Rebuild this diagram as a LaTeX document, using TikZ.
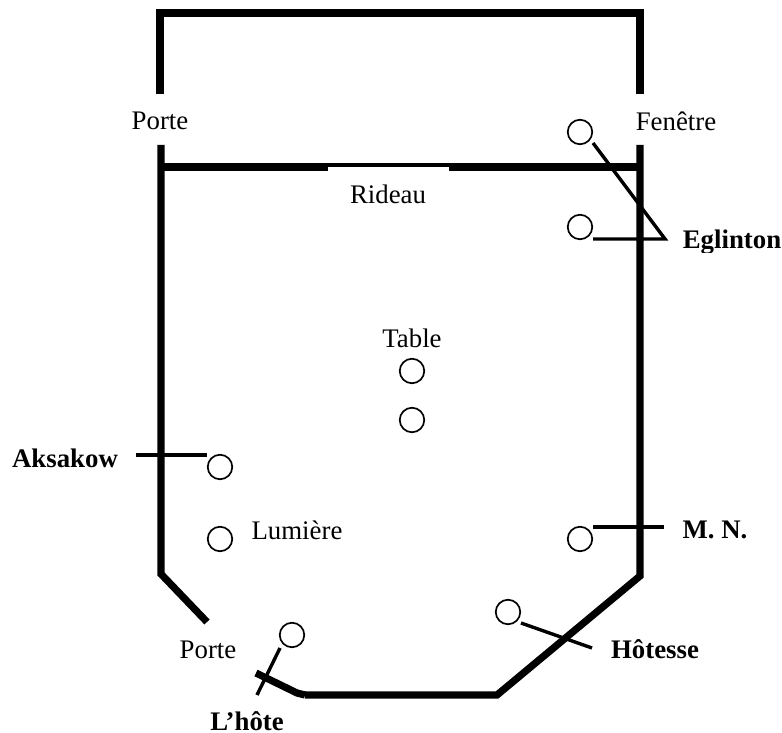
\documentclass[tikz,border=0pt]{standalone}
\usepackage{fontspec}
\setmainfont{Liberation Serif}
\begin{document}
\begin{tikzpicture}[x=1pt,y=-1pt,
  wall/.style={line width=7.2pt,line join=miter},
  thinline/.style={line width=3.4pt},
  seat/.style={circle,draw,line width=1.7pt,minimum size=24.5pt,inner sep=0pt},
  lab/.style={font=\fontsize{26.8}{30}\selectfont,inner sep=0pt},
  blab/.style={lab,font=\fontsize{26.8}{30}\selectfont\bfseries}]
\useasboundingbox (0,0) rectangle (782,733);
\coordinate (w1) at (160,94);
\coordinate (w2) at (160,13);
\coordinate (w3) at (640,13);
\coordinate (w4) at (640,94);
\draw[wall] (w1)--(w2)--(w3)--(w4);
\coordinate (a1) at (161,145);
\coordinate (a2) at (161,574);
\coordinate (a3) at (207,622);
\draw[wall] (a1)--(a2)--(a3);
\coordinate (b1) at (640,145);
\coordinate (b2) at (640,576);
\coordinate (b3) at (497,695);
\coordinate (b4) at (305,695);
\coordinate (b5) at (297,693);
\coordinate (b6) at (256,673);
\draw[wall] (b1)--(b2)--(b3)--(b4);
\draw[wall] (b4)--(b5)--(b6);
\coordinate (r1) at (161,167.5);
\coordinate (r2) at (328,167.5);
\coordinate (r3) at (449,167.5);
\coordinate (r4) at (640,167.5);
\draw[wall,line width=8pt] (r1)--(r2) (r3)--(r4);
\coordinate (r5) at (328,165.3);
\coordinate (r6) at (449,165.3);
\draw[line width=3.6pt] (r5)--(r6);
\node[seat] (s1) at (580,132) {};
\node[seat] (s2) at (580,227) {};
\node[seat] (s3) at (412,371) {};
\node[seat] (s4) at (412,420) {};
\node[seat] (s5) at (220,467) {};
\node[seat] (s6) at (220,539) {};
\node[seat] (s7) at (580,539) {};
\node[seat] (s8) at (508,612) {};
\node[seat] (s9) at (292,635) {};
\coordinate (e) at (665,239);
\coordinate (e1) at (593,143);
\coordinate (e2) at (593,239);
\draw[thinline,line join=miter] (e1)--(e)--(e2);
\coordinate (ak) at (136,455);
\coordinate (ak2) at (207,455);
\draw[thinline] (ak)--(ak2);
\coordinate (mn) at (664,527);
\coordinate (mn2) at (593,527);
\draw[thinline] (mn2)--(mn);
\coordinate (ho) at (592,648);
\coordinate (ho2) at (521,623);
\draw[thinline] (ho2)--(ho);
\coordinate (lh) at (257,695);
\coordinate (lh2) at (280,648);
\draw[thinline] (lh2)--(lh);
\node[lab] (t1) at (160,121) {Porte};
\node[lab] (t2) at (676,121) {Fenêtre};
\node[lab] (t3) at (388,194) {Rideau};
\node[lab] (t4) at (412,338) {Table};
\node[lab] (t5) at (297,530) {Lumière};
\node[lab] (t6) at (208,650) {Porte};
\node[blab] (t7) at (732,242) {Eglinton};
\node[blab] (t8) at (65,458) {Aksakow};
\node[blab] (t9) at (715,530) {M. N.};
\node[blab] (t10) at (655,649) {Hôtesse};
\node[blab,anchor=base] (t11) at (247,730) {L’hôte};
\fill[white] (683,253) rectangle (782,262);
\end{tikzpicture}
\end{document}
